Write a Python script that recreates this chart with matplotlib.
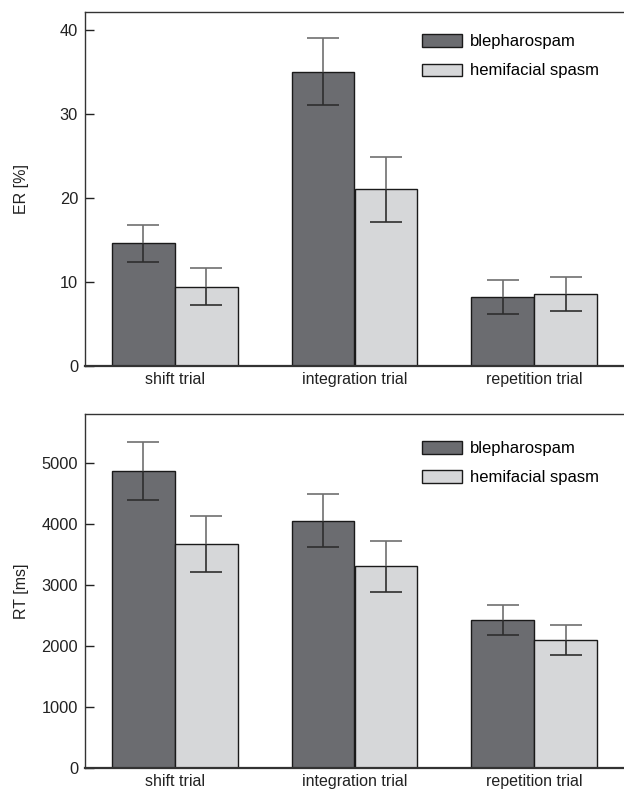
import matplotlib
matplotlib.use("Agg")
import matplotlib.pyplot as plt
import numpy as np

plt.rcParams['font.family'] = ['Liberation Sans', 'DejaVu Sans']

# --- Data ---
conditions = ["shift trial", "integration trial", "repetition trial"]
groups = ["blepharospam", "hemifacial spasm"]

er_bleph = [14.6, 35.0, 8.2]
er_bleph_err = [2.2, 4.0, 2.0]
er_hemi = [9.4, 21.0, 8.6]
er_hemi_err = [2.2, 3.9, 2.0]

rt_bleph = [4870, 4050, 2427]
rt_bleph_err = [470, 433, 250]
rt_hemi = [3676, 3306, 2105]
rt_hemi_err = [455, 420, 245]

DARK = "#6b6c70"
LIGHT = "#d6d7d9"
BAR_W = 0.35
CAP = 0.089  # half cap width in data units
TXT = "#222222"


def draw_panel(ax, bleph, bleph_err, hemi, hemi_err, ylabel, yticks, ytop, leg_y):
    x = np.arange(len(conditions))
    for xs, vals, errs, col, lab in [
        (x - BAR_W / 2, bleph, bleph_err, DARK, groups[0]),
        (x + BAR_W / 2, hemi, hemi_err, LIGHT, groups[1]),
    ]:
        vals = np.asarray(vals, float)
        errs = np.asarray(errs, float)
        ax.bar(xs, vals, BAR_W, color=col, edgecolor="#1a1a1a", linewidth=1.0,
               label=lab, zorder=2)
        # upper half of error bar is lighter, lower half darker
        ax.vlines(xs, vals, vals + errs, color="#707070", lw=1.2, zorder=3)
        ax.hlines(vals + errs, xs - CAP, xs + CAP, color="#707070", lw=1.2, zorder=3)
        ax.vlines(xs, vals - errs, vals, color="#2e2e2e", lw=1.2, zorder=3)
        ax.hlines(vals - errs, xs - CAP, xs + CAP, color="#2e2e2e", lw=1.2, zorder=3)

    ax.set_xlim(-0.5, 2.5)
    ax.set_ylim(0, ytop)
    ax.set_yticks(yticks)
    ax.set_xticks(x)
    ax.set_xticklabels(conditions)
    ax.tick_params(axis="x", length=0, pad=4, labelsize=11.5, colors=TXT)
    ax.tick_params(axis="y", direction="in", length=6.5, width=1.0,
                   labelsize=11.8, colors=TXT, pad=5)
    ax.set_ylabel(ylabel, fontsize=11.5, color=TXT)
    ax.yaxis.set_label_coords(-0.103, 0.5)
    ax.spines["right"].set_visible(False)
    for s in ["left", "top"]:
        ax.spines[s].set_linewidth(1.0)
        ax.spines[s].set_color("#333333")
    ax.spines["bottom"].set_linewidth(1.6)
    ax.spines["bottom"].set_color("#333333")
    ax.legend(loc="upper left", bbox_to_anchor=(0.625, leg_y), frameon=False,
              fontsize=12, handlelength=2.4, handleheight=0.76,
              handletextpad=0.5, labelspacing=0.85, borderaxespad=0, borderpad=0)


fig = plt.figure(figsize=(6.24, 7.89), dpi=100)
W, H = 624, 789
left = 85 / W
width = 1.0 - left
ax1 = fig.add_axes([left, 1 - 366 / H, width, (366 - 12) / H])
ax2 = fig.add_axes([left, 1 - 768.3 / H, width, (768.3 - 414.3) / H])

draw_panel(ax1, er_bleph, er_bleph_err, er_hemi, er_hemi_err,
           "ER [%]", [0, 10, 20, 30, 40], 42.1, 0.937)
draw_panel(ax2, rt_bleph, rt_bleph_err, rt_hemi, rt_hemi_err,
           "RT [ms]", [0, 1000, 2000, 3000, 4000, 5000], 5795, 0.924)

fig.savefig("out.png", dpi=100)
